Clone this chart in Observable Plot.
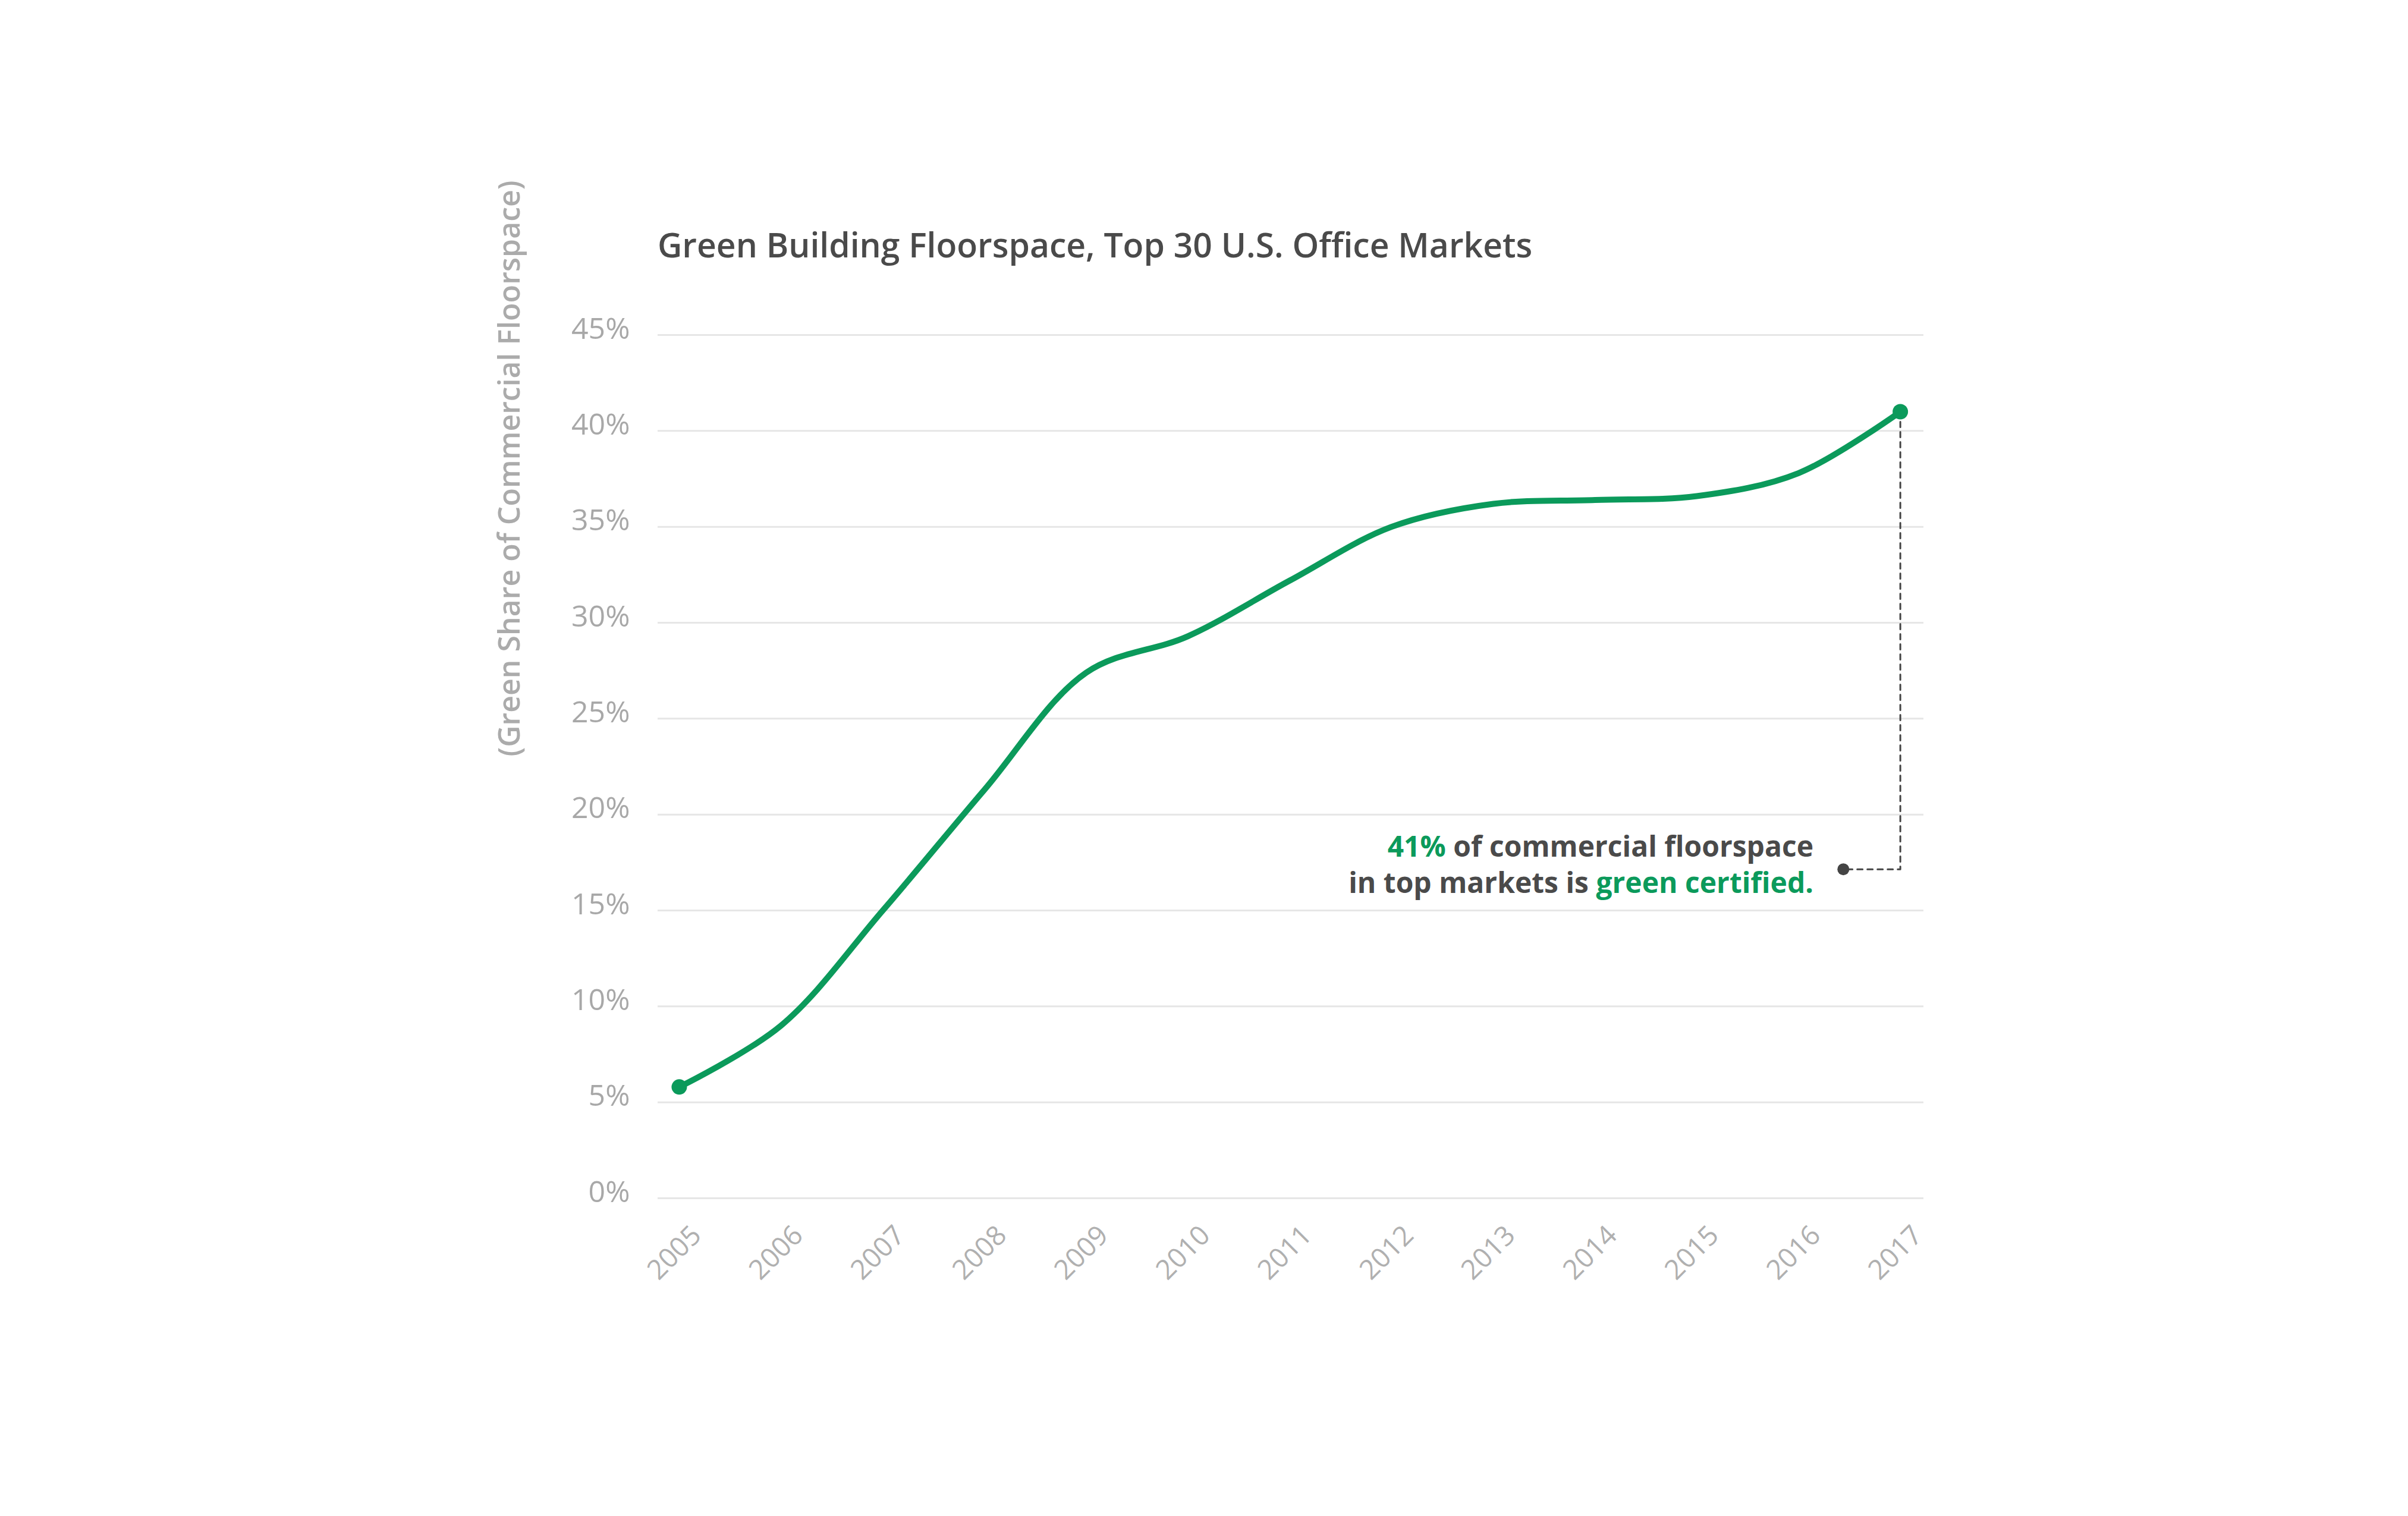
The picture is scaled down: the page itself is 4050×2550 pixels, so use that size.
<!DOCTYPE html>
<html><head><meta charset="utf-8">
<script src="https://cdn.jsdelivr.net/npm/d3@7"></script>
<script src="https://cdn.jsdelivr.net/npm/@observablehq/plot@0.6"></script>
<style>
body{margin:0;background:#fff;font-family:"Open Sans",sans-serif;}
#wrap{position:relative;width:4050px;height:2550px;}
#title{position:absolute;left:1106px;top:372px;font-size:57px;font-weight:600;color:#4a4a4a;}
#note{position:absolute;right:1000px;top:1392px;font-size:48px;font-weight:700;color:#4a4a4a;text-align:right;line-height:61px;}
#note .g{color:#0b9a5b;}
</style></head><body>
<div id="wrap"><div id="title">Green Building Floorspace, Top 30 U.S. Office Markets</div>
<div id="note"><span class="g">41%</span> of commercial floorspace<br>in top markets is <span class="g">green certified.</span></div></div>
<script>
const years = [2005,2006,2007,2008,2009,2010,2011,2012,2013,2014,2015,2016,2017];
const share = [5.8,9.0,15.0,21.3,27.4,29.3,32.2,35.0,36.2,36.4,36.6,37.8,41.0];
const yTicks = [0,5,10,15,20,25,30,35,40,45];
const noteLine = [[2017,41],[2017,17.15],[2016.44,17.15]];
const data = years.map((y,i)=>({year:y,v:share[i]}));
const green = "#0b9a5b";
const chart = Plot.plot({
  width:4050, height:2550,
  marginLeft:1106, marginRight:815, marginTop:563, marginBottom:535,
  style:{fontFamily:"Open Sans", background:"transparent"},
  x:{domain:[2004.79,2017.23], axis:null},
  y:{domain:[0,45], axis:null},
  marks:[
    Plot.ruleY(yTicks,{stroke:"#e6e6e6", strokeWidth:3}),
    Plot.text(yTicks,{x:2004.79, y:d=>d, text:d=>d+"%", textAnchor:"end", dx:-47, dy:-10, fontSize:50, fill:"#a8a8a8"}),
    Plot.text(years,{x:d=>d, y:0, text:d=>String(d), rotate:-45, dy:92, dx:-8, fontSize:46, fill:"#b0b0b0"}),
    Plot.text(["(Green Share of Commercial Floorspace)"],{frameAnchor:"left", dx:-249, dy:-17, rotate:-90, text:d=>d, fontSize:50, fill:"#ababab", fontWeight:600}),
    Plot.line(noteLine,{x:d=>d[0], y:d=>d[1], stroke:"#444", strokeWidth:3, strokeDasharray:"9,8"}),
    Plot.dot([noteLine[2]],{x:d=>d[0], y:d=>d[1], r:10, fill:"#444"}),
    Plot.line(data,{x:"year", y:"v", curve:"catmull-rom", stroke:green, strokeWidth:10}),
    Plot.dot([data[0], data[data.length-1]],{x:"year", y:"v", r:13, fill:green})
  ]
});
chart.style.position="absolute"; chart.style.left="0"; chart.style.top="0";
document.getElementById("wrap").prepend(chart);
</script></body></html>
